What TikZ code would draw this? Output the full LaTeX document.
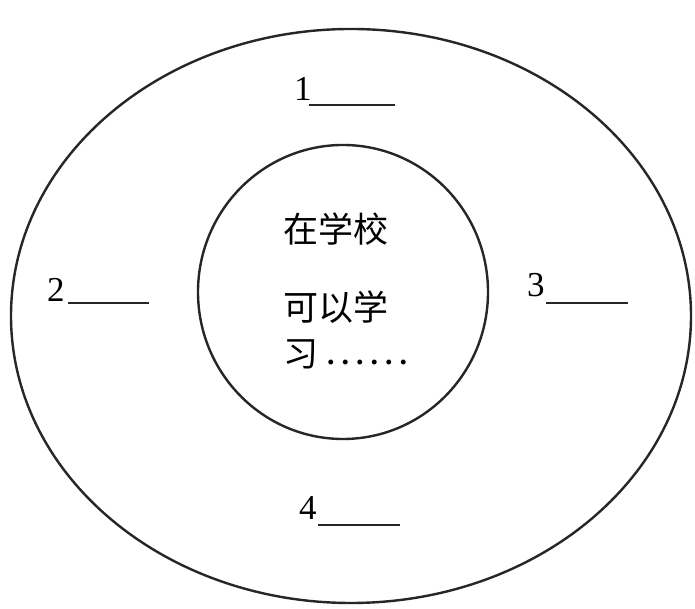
\documentclass[tikz,border=0pt]{standalone}
\usepackage{fontspec}
\setmainfont{Liberation Serif}
\newfontfamily\cjk{Noto Sans CJK SC}
\begin{document}
\begin{tikzpicture}[x=1pt,y=1pt,
  ring/.style={draw=black!85,line width=2.4pt},
  num/.style={anchor=base west,inner sep=0pt,font=\fontsize{35}{35}\selectfont},
  blank/.style={draw=black!85,line width=1.5pt},
  zh/.style={anchor=west,inner sep=0pt,font=\cjk\fontsize{35}{35}\selectfont}]
\useasboundingbox (0,0) rectangle (695,609);
\fill[white] (0,0) rectangle (695,609);
% outer and inner rings
\draw[ring] (351,293) ellipse [x radius=340, y radius=287];
\draw[ring] (343,317) ellipse [x radius=145, y radius=147];
% numbered blanks
\node[num] (n1) at (294,508) {1};
\coordinate (u1a) at (309,504); \coordinate (u1b) at (395,504);
\draw[blank] (u1a) -- (u1b);
\node[num] (n2) at (47,307) {2};
\coordinate (u2a) at (68,306); \coordinate (u2b) at (149,306);
\draw[blank] (u2a) -- (u2b);
\node[num] (n3) at (527,312) {3};
\coordinate (u3a) at (546,306); \coordinate (u3b) at (628,306);
\draw[blank] (u3a) -- (u3b);
\node[num] (n4) at (299,89) {4};
\coordinate (u4a) at (318,84); \coordinate (u4b) at (400,84);
\draw[blank] (u4a) -- (u4b);
% inner text
\node[zh] (t1) at (283,380) {在学校};
\node[zh] (t2) at (283,302) {可以学};
\node[zh] (t3) at (283,255) {习};
\node[anchor=base west,inner sep=0pt,font=\fontsize{30}{30}\selectfont\bfseries] (dots) at (327,244)
  {.\hspace{7pt}.\hspace{7pt}.\hspace{7pt}.\hspace{7pt}.\hspace{7pt}.};
\end{tikzpicture}
\end{document}
